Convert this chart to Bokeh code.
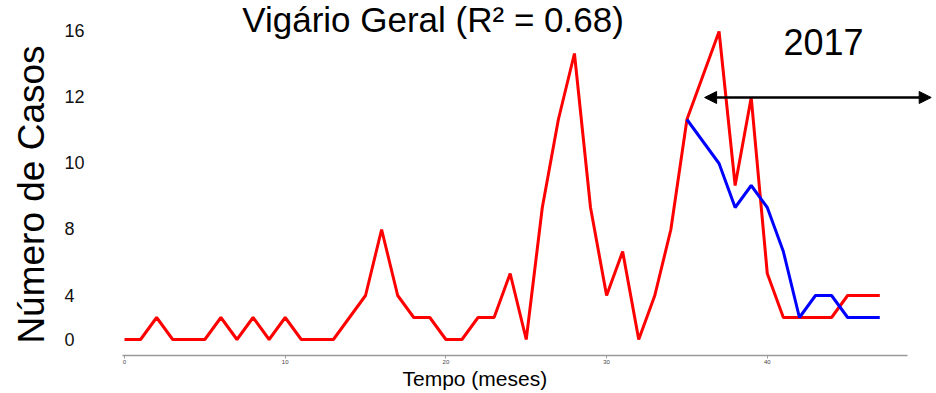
import math

from bokeh.core.properties import value
from bokeh.embed import file_html
from bokeh.models import Arrow, FixedTicker, NormalHead, Range1d
from bokeh.plotting import figure
from bokeh.resources import INLINE

# Monthly dengue cases, Vigário Geral
months = list(range(48))
observed = [0, 0, 1, 0, 0, 0, 1, 0, 1, 0, 1, 0, 0, 0, 1, 2, 5, 2, 1, 1,
            0, 0, 1, 1, 3, 0, 6, 10, 13, 6, 2, 4, 0, 2, 5, 10, 12, 14, 7, 11,
            3, 1, 1, 1, 1, 2, 2, 2]

# Model forecast, starting from the last fitted month
forecast_months = list(range(35, 48))
forecast = [10, 9, 8, 6, 7, 6, 4, 1, 2, 2, 1, 1, 1]

# Y axis ticks and their printed labels
y_tick_pos = [0, 2, 5, 8, 11, 14]
y_tick_labels = ["0", "4", "8", "10", "12", "16"]
x_ticks = [0, 10, 20, 30, 40]

title_text = "Vigário Geral (R² = 0.68)"
year_text = "2017"
year_span = (36.1, 50.2)
year_level = 11
x_title = "Tempo (meses)"
y_title = "Número de Casos"

FONT = "Liberation Sans"
FIGURE_SPACE = "\u2007"

# The plotting frame fills the whole canvas; axes sit at fixed positions inside it
p = figure(
    width=936, height=393,
    output_backend="svg", toolbar_location=None,
    x_range=Range1d(-7.716, 50.53), y_range=Range1d(-2.4545, 15.409),
    min_border=0,
)
p.outline_line_color = None
p.xgrid.visible = False
p.ygrid.visible = False
p.background_fill_color = "white"
p.border_fill_color = "white"

# x axis: thin grey rule with tiny labels
xa = p.xaxis[0]
xa.fixed_location = -0.727
xa.ticker = FixedTicker(ticks=x_ticks)
xa.bounds = (-0.15, 48.7)
xa.axis_line_color = "#9a9a9a"
xa.axis_line_width = 1.5
xa.major_tick_line_color = "#9a9a9a"
xa.major_tick_out = 3
xa.major_tick_in = 0
xa.minor_tick_line_color = None
xa.major_label_text_font = FONT
xa.major_label_text_font_size = "6px"
xa.major_label_text_color = "#444444"
xa.major_label_standoff = 2

# y axis: labels only, padded to two digit widths so they line up on the left
ya = p.yaxis[0]
ya.fixed_location = -0.622
ya.ticker = FixedTicker(ticks=y_tick_pos)
ya.major_label_overrides = {
    t: s.ljust(2, FIGURE_SPACE) for t, s in zip(y_tick_pos, y_tick_labels)
}
ya.axis_line_color = None
ya.major_tick_line_color = None
ya.minor_tick_line_color = None
ya.major_label_text_font = FONT
ya.major_label_text_font_size = "18px"
ya.major_label_text_color = "#111111"
ya.major_label_standoff = 24

# series
p.line(months, observed, line_color="#ff0000", line_width=3)
p.line(forecast_months, forecast, line_color="#0000ff", line_width=3)

# year marker
p.add_layout(Arrow(
    x_start=year_span[0], y_start=year_level, x_end=year_span[1], y_end=year_level,
    line_color="black", line_width=2.5,
    start=NormalHead(size=12, fill_color="black", line_color="black"),
    end=NormalHead(size=12, fill_color="black", line_color="black"),
))
p.text(x=[43.5], y=[13.51], text=[year_text], text_font=value(FONT),
       text_font_size="36px", text_align="center", text_baseline="alphabetic",
       text_color="black")

# title
p.text(x=[19.2], y=[14.54], text=[title_text], text_font=value(FONT),
       text_font_size="35px", text_align="center", text_baseline="alphabetic",
       text_color="black")

# axis titles
p.text(x=[21.8], y=[-1.79], text=[x_title], text_font=value(FONT),
       text_font_size="21px", text_align="center", text_baseline="alphabetic",
       text_color="black")
p.text(x=[-5.77], y=[6.59], text=[y_title], text_font=value(FONT),
       text_font_size="37px", text_align="center", text_baseline="alphabetic",
       angle=math.pi / 2, text_color="black")

open("out.html", "w").write(file_html(p, INLINE))
